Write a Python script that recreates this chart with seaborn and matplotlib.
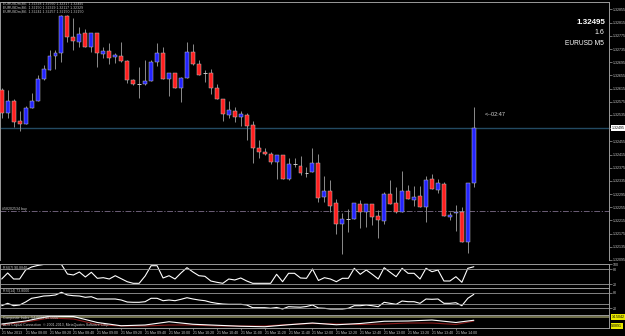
import numpy as np
import pandas as pd
import matplotlib
matplotlib.use("Agg")
import matplotlib.pyplot as plt
import seaborn as sns

# ---------------- data ----------------
opens = [1.32611, 1.32541, 1.32578, 1.32517, 1.32508, 1.32556, 1.32578, 1.32644, 1.32672, 1.32714,
         1.32723, 1.32835, 1.32772, 1.32757, 1.32784, 1.32741, 1.32784, 1.32720, 1.32729, 1.32711,
         1.32714, 1.32699, 1.32641, 1.32629, 1.32629, 1.32638, 1.32696, 1.32723, 1.32644, 1.32663,
         1.32617, 1.32647, 1.32726, 1.32690, 1.32663, 1.32663, 1.32617, 1.32584, 1.32535, 1.32547,
         1.32529, 1.32535, 1.32505, 1.32435, 1.32423, 1.32417, 1.32393, 1.32414, 1.32341, 1.32387,
         1.32381, 1.32360, 1.32363, 1.32390, 1.32287, 1.32305, 1.32269, 1.32205, 1.32220, 1.32220,
         1.32266, 1.32241, 1.32266, 1.32229, 1.32214, 1.32296, 1.32269, 1.32241, 1.32305, 1.32278,
         1.32290, 1.32257, 1.32341, 1.32308, 1.32326, 1.32226, 1.32238, 1.32241, 1.32150, 1.32329]
highs = [1.32617, 1.32611, 1.32584, 1.32547, 1.32563, 1.32602, 1.32657, 1.32687, 1.32732, 1.32732,
         1.32838, 1.32838, 1.32829, 1.32802, 1.32796, 1.32784, 1.32784, 1.32741, 1.32753, 1.32723,
         1.32757, 1.32702, 1.32644, 1.32681, 1.32702, 1.32702, 1.32753, 1.32741, 1.32663, 1.32663,
         1.32650, 1.32757, 1.32750, 1.32702, 1.32672, 1.32675, 1.32629, 1.32584, 1.32578, 1.32560,
         1.32547, 1.32541, 1.32517, 1.32460, 1.32435, 1.32423, 1.32414, 1.32414, 1.32405, 1.32405,
         1.32411, 1.32378, 1.32435, 1.32417, 1.32350, 1.32338, 1.32281, 1.32238, 1.32250, 1.32269,
         1.32278, 1.32266, 1.32266, 1.32247, 1.32302, 1.32338, 1.32317, 1.32366, 1.32323, 1.32320,
         1.32320, 1.32350, 1.32357, 1.32341, 1.32332, 1.32241, 1.32263, 1.32257, 1.32329, 1.32560]
lows = [1.32526, 1.32526, 1.32499, 1.32487, 1.32508, 1.32556, 1.32578, 1.32641, 1.32672, 1.32675,
        1.32696, 1.32757, 1.32732, 1.32741, 1.32741, 1.32726, 1.32681, 1.32708, 1.32690, 1.32693,
        1.32696, 1.32632, 1.32626, 1.32587, 1.32626, 1.32638, 1.32684, 1.32644, 1.32593, 1.32617,
        1.32575, 1.32647, 1.32687, 1.32657, 1.32635, 1.32599, 1.32584, 1.32517, 1.32526, 1.32514,
        1.32502, 1.32460, 1.32390, 1.32405, 1.32414, 1.32387, 1.32341, 1.32341, 1.32338, 1.32378,
        1.32353, 1.32347, 1.32363, 1.32272, 1.32272, 1.32241, 1.32175, 1.32114, 1.32181, 1.32220,
        1.32193, 1.32196, 1.32202, 1.32163, 1.32205, 1.32266, 1.32238, 1.32241, 1.32281, 1.32260,
        1.32257, 1.32211, 1.32311, 1.32299, 1.32229, 1.32217, 1.32184, 1.32150, 1.32117, 1.32317]
closes = [1.32541, 1.32578, 1.32514, 1.32508, 1.32556, 1.32578, 1.32644, 1.32675, 1.32714, 1.32723,
          1.32835, 1.32772, 1.32760, 1.32781, 1.32741, 1.32784, 1.32723, 1.32729, 1.32708, 1.32717,
          1.32699, 1.32641, 1.32629, 1.32629, 1.32638, 1.32696, 1.32723, 1.32644, 1.32663, 1.32617,
          1.32647, 1.32726, 1.32690, 1.32657, 1.32663, 1.32617, 1.32584, 1.32538, 1.32550, 1.32529,
          1.32538, 1.32502, 1.32435, 1.32423, 1.32417, 1.32393, 1.32414, 1.32341, 1.32387, 1.32387,
          1.32360, 1.32360, 1.32390, 1.32284, 1.32305, 1.32260, 1.32205, 1.32220, 1.32220, 1.32269,
          1.32241, 1.32266, 1.32226, 1.32217, 1.32296, 1.32266, 1.32241, 1.32305, 1.32281, 1.32287,
          1.32257, 1.32338, 1.32311, 1.32329, 1.32229, 1.32232, 1.32241, 1.32150, 1.32329, 1.32495]

rsi7 = [41.4, 65.7, 41.4, 41.4, 77.8, 89.9, 96.0, 100, 100, 100,
        100, 61.6, 57.6, 69.7, 49.5, 68.5, 44.2, 46.7, 41.4, 54.7,
        42.6, 30.5, 24.0, 24.0, 53.5, 95.1, 95.1, 45.5, 54.7, 41.4,
        65.7, 87.1, 69.7, 54.7, 52.3, 33.3, 28.1, 24.0, 41.4, 37.4,
        45.5, 33.3, 24.0, 24.0, 24.0, 24.0, 60.4, 30.5, 64.4, 64.4,
        45.5, 44.2, 81.8, 35.4, 46.7, 41.4, 30.5, 44.2, 44.2, 84.6,
        60.4, 77.8, 60.4, 41.4, 87.1, 68.5, 50.7, 84.6, 64.4, 64.4,
        41.4, 84.6, 70.9, 77.8, 33.3, 33.3, 50.7, 28.1, 84.6, 90.9]
rsi14 = [30.0, 39.2, 30.0, 32.7, 44.2, 58.5, 62.3, 67.3, 68.5, 71.2,
         81.5, 71.2, 68.5, 67.3, 62.3, 64.6, 55.8, 55.8, 55.8, 55.8,
         51.9, 44.2, 43.1, 43.1, 45.4, 58.5, 58.5, 49.2, 51.9, 49.2,
         54.6, 60.8, 55.8, 51.9, 49.2, 43.1, 39.2, 36.5, 35.4, 35.4,
         35.4, 32.7, 22.3, 22.3, 22.3, 20.0, 23.1, 17.3, 26.2, 25.0,
         24.2, 26.9, 32.7, 21.2, 20.0, 17.3, 17.3, 17.3, 20.0, 30.0,
         30.0, 32.7, 30.0, 26.2, 43.1, 39.2, 35.4, 48.1, 45.4, 45.4,
         39.2, 55.8, 54.6, 55.8, 39.2, 39.2, 41.5, 30.0, 58.5, 73.8]
rsi7_levels = [80, 20]
rsi14_levels = [80, 36.5, 20]

ci_index = [0, 4, 8, 12, 16, 20, 24, 28, 32, 36, 40, 44, 48, 52, 56, 60, 64, 68, 72, 76, 79]
ci_main = [24, 48, 86, 84, 36, 10, 16, 42, 22, 14, 6, 2, 18, 32, 18, 28, 46, 48, 56, 36, 54]
ci_signal = [16, 40, 72, 64, 20, 8, 8, 16, 16, 8, 8, 8, 20, 28, 24, 20, 24, 32, 32, 20, 48]

price_ticks = [1.32855, 1.32815, 1.32775, 1.32735, 1.32695, 1.32655, 1.32615, 1.32575, 1.32535,
               1.32495, 1.32455, 1.32415, 1.32375, 1.32335, 1.32295, 1.32255, 1.32215, 1.32175,
               1.32135, 1.32095]
time_tick_index = [0, 4, 8, 12, 16, 20, 24, 28, 32, 36, 40, 44, 48, 52, 56, 60, 64, 68, 72, 76]
time_labels = ["21 Mar 2013", "21 Mar 08:00", "21 Mar 08:20", "21 Mar 08:40", "21 Mar 09:00",
               "21 Mar 09:20", "21 Mar 09:40", "21 Mar 10:00", "21 Mar 10:20", "21 Mar 10:40",
               "21 Mar 11:00", "21 Mar 11:20", "21 Mar 11:40", "21 Mar 12:00", "21 Mar 12:20",
               "21 Mar 12:40", "21 Mar 13:00", "21 Mar 13:20", "21 Mar 13:40", "21 Mar 14:00"]
current_price = 1.32495
order_price = 1.32244

# ---------------- style ----------------
sns.set_theme(style="dark", rc={"axes.facecolor": "black", "figure.facecolor": "black"})
plt.rcParams['font.family'] = ['Liberation Sans', 'DejaVu Sans']

W, H = 625, 336
fig = plt.figure(figsize=(W / 100, H / 100), dpi=100)
fig.patch.set_facecolor("black")


def box(x0, y0, x1, y1):
    return [x0 / W, 1 - y1 / H, (x1 - x0) / W, (y1 - y0) / H]


def fpos(x, y):
    return x / W, 1 - y / H


XL = (-0.284, 101.62)
GRID = "#9a9a9a"
TXT = "#c8c8c8"

ax = fig.add_axes(box(0, 2, 609, 260))
a7 = fig.add_axes(box(0, 263.5, 609, 288))
a14 = fig.add_axes(box(0, 288, 609, 314.5))
aci = fig.add_axes(box(0, 314.5, 609, 328))

for a in (ax, a7, a14, aci):
    a.set_facecolor("black")
    a.set_xlim(*XL)
    for s in a.spines.values():
        s.set_color(GRID)
        s.set_linewidth(0.7)
    a.spines["bottom"].set_visible(False)
    a.grid(False)
    a.yaxis.tick_right()
    a.tick_params(axis="y", colors=GRID, labelcolor=TXT, length=1.8, width=0.5, pad=0.8,
                  labelsize=2.6, direction="out")
    a.tick_params(axis="x", bottom=False, labelbottom=False)

# ---------------- candles ----------------
idx = np.arange(len(opens))
o = np.array(opens); h = np.array(highs); l = np.array(lows); c = np.array(closes)
ax.vlines(idx, l, h, color="#8c8c8c", lw=0.7, zorder=2)
bull = c > o
bear = c < o
doji = c == o
ax.bar(idx[bull], (c - o)[bull], bottom=o[bull], width=0.66, color="#2323ff",
       edgecolor="#c0c0c0", linewidth=0.35, zorder=3)
ax.bar(idx[bear], (o - c)[bear], bottom=c[bear], width=0.66, color="#ff1e1e",
       edgecolor="#c0c0c0", linewidth=0.35, zorder=3)
ax.hlines(o[doji], idx[doji] - 0.33, idx[doji] + 0.33, color="#c8c8c8", lw=0.7, zorder=3)

ax.set_ylim(1.320959, 1.328777)
ax.axhline(current_price, color="#234a62", lw=1.0, zorder=1)
ax.axhline(order_price, color="#7d6d8a", lw=0.6, ls=(0, (7, 2, 1.5, 2)), zorder=1)
ax.set_yticks(price_ticks)
ax.set_yticklabels([f"{p:.5f}" for p in price_ticks])
ax.annotate(f"{current_price:.5f}", xy=(1.0, current_price), xycoords=("axes fraction", "data"),
            xytext=(1.7, 0), textcoords="offset points", ha="left", va="center",
            fontsize=2.6, color="black",
            bbox=dict(boxstyle="square,pad=0.2", fc="white", ec="none"), annotation_clip=False)
ax.text(0.004, order_price, "#58202534 buy", transform=ax.get_yaxis_transform(),
        fontsize=2.6, color=TXT, va="bottom", ha="left")

# ---------------- RSI panels ----------------
df = pd.DataFrame({"i": idx, "rsi7": rsi7, "rsi14": rsi14})
sns.lineplot(data=df, x="i", y="rsi7", ax=a7, color="white", lw=0.8, legend=False)
a7.set_ylim(5.05, 104.0)
for lv in rsi7_levels:
    a7.axhline(lv, color=GRID, lw=0.6)
a7.set_yticks([100, 80, 20])
a7.set_ylabel(""); a7.set_xlabel("")
a7.set_xlim(*XL)

sns.lineplot(data=df, x="i", y="rsi14", ax=a14, color="white", lw=0.8, legend=False)
a14.set_ylim(-3.85, 98.1)
for lv in rsi14_levels:
    a14.axhline(lv, color=GRID, lw=0.6)
a14.set_yticks([80, 20])
a14.set_ylabel(""); a14.set_xlabel("")
a14.set_xlim(*XL)

# ---------------- composite index panel ----------------
dci = pd.DataFrame({"i": ci_index, "ci": ci_main, "sig": ci_signal})
aci.axhspan(72, 88, color="#6e6e4a", lw=0)
sns.lineplot(data=dci, x="i", y="sig", ax=aci, color="#8b1c1c", lw=0.8, legend=False)
sns.lineplot(data=dci, x="i", y="ci", ax=aci, color="white", lw=0.8, legend=False)
aci.set_ylim(-8, 100)
aci.set_xlim(*XL)
aci.set_ylabel(""); aci.set_xlabel("")
aci.set_yticks([])
aci.spines["bottom"].set_visible(True)
aci.set_xticks(time_tick_index)
aci.set_xticklabels(time_labels, ha="left")
aci.tick_params(axis="x", bottom=True, labelbottom=True, colors=GRID, labelcolor=TXT,
                length=1.5, width=0.5, pad=0.8, labelsize=2.55)
for yv, txt in [(80, "14.5042"), (8, "9.0891")]:
    aci.annotate(txt, xy=(1.0, yv), xycoords=("axes fraction", "data"), xytext=(1.7, 0),
                 textcoords="offset points", ha="left", va="center", fontsize=2.6,
                 color="black",
                 bbox=dict(boxstyle="square,pad=0.2", fc="#e8e800", ec="none"),
                 annotation_clip=False)

# ---------------- texts ----------------
for k, line in enumerate(["EURUSDm,M5  1.32328 1.32560 1.32317 1.32495",
                          "EURUSDm,M5  1.32150 1.32329 1.32117 1.32329",
                          "EURUSDm,M5  1.32241 1.32257 1.32150 1.32150"]):
    fig.text(*fpos(3, 4 + 4 * k), line, fontsize=2.5, color=TXT, va="center", ha="left")
fig.text(*fpos(605, 23), f"{current_price:.5f}", fontsize=5.8, color="white",
         fontweight="bold", ha="right", va="center")
fig.text(*fpos(604, 33), "1.6", fontsize=5.0, color="white", ha="right", va="center")
fig.text(*fpos(604, 43.5), "EURUSD M5", fontsize=4.8, color="white", ha="right", va="center")
fig.text(*fpos(485, 115), "<--02:47", fontsize=4.0, color="#d8d8d8", ha="left", va="center")
fig.text(*fpos(3, 267.5), "RSI(7) 90.8840", fontsize=2.5, color=TXT, ha="left", va="center")
fig.text(*fpos(3, 291), "RSI(14) 73.8000", fontsize=2.5, color=TXT, ha="left", va="center")
fig.text(*fpos(3, 318.5), "Composite Index  54.0000 48.0000", fontsize=2.5, color=TXT,
         ha="left", va="center")
fig.text(*fpos(3, 325), "ADS Capital Connection  \u00a9 2001-2013, MetaQuotes Software Corp.",
         fontsize=2.5, color=TXT, ha="left", va="center")

fig.savefig("out.png", dpi=100, facecolor="black")
